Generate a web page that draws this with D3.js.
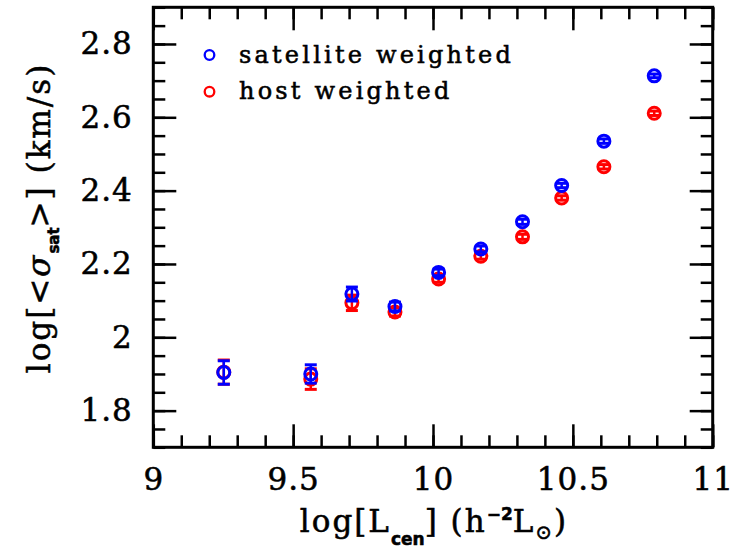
<!DOCTYPE html>
<html>
<head>
<meta charset="utf-8">
<script src="https://cdn.jsdelivr.net/npm/d3@7"></script>
<style>
body { margin: 0; background: #fff; }
svg text { stroke: #000; stroke-width: 0.55px; }
</style>
</head>
<body>
<script>
//values
var lumCen = [9.252, 9.563, 9.71, 9.864, 10.02, 10.171, 10.32, 10.46, 10.611, 10.791];
var satWeighted = [1.904, 1.900, 2.118, 2.084, 2.177, 2.241, 2.315, 2.414, 2.535, 2.713];
var satErr = [0.032, 0.025, 0.019, 0.012, 0.009, 0.008, 0.007, 0.006, 0.006, 0.005];
var hostWeighted = [1.905, 1.886, 2.094, 2.069, 2.159, 2.221, 2.274, 2.380, 2.465, 2.611];
var hostErr = [0.033, 0.028, 0.021, 0.011, 0.009, 0.008, 0.007, 0.006, 0.006, 0.006];

var xMajor = [9, 9.5, 10, 10.5, 11];
var yMajor = [1.8, 2.0, 2.2, 2.4, 2.6, 2.8];
var legendNames = ["satellite weighted", "host weighted"];
var seriesColors = ["#0000ff", "#ff0000"];

var width = 735, height = 548;
var plotLeft = 153.3, plotRight = 712.7, plotTop = 7.3, plotBottom = 447.3;

var svg = d3.select("body").append("svg")
    .attr("width", width)
    .attr("height", height);

var x = d3.scaleLinear().domain([9, 11]).range([plotLeft, plotRight]);
var y = d3.scaleLinear().domain([1.7, 2.9]).range([plotBottom, plotTop]);

var xMinor = d3.range(9, 11.001, 0.1).map(function(d){ return +d.toFixed(2); });
var yMinor = d3.range(1.7, 2.901, 0.05).map(function(d){ return +d.toFixed(2); });
var fmt = function(d){ return String(+d.toFixed(2)); };

var serif = "'DejaVu Serif', serif";
var sans = "'DejaVu Sans', sans-serif";

//inward ticks on all four sides
function addAxis(axis, tx, ty){
    var g = svg.append("g")
        .attr("transform", "translate(" + tx + "," + ty + ")")
        .call(axis);
    g.select(".domain").remove();
    g.selectAll("line").attr("stroke", "#000").attr("stroke-width", 2.5);
    return g;
}

addAxis(d3.axisBottom(x).tickValues(xMinor).tickSize(-12).tickFormat(""), 0, plotBottom);
addAxis(d3.axisTop(x).tickValues(xMinor).tickSize(-12).tickFormat(""), 0, plotTop);
addAxis(d3.axisTop(x).tickValues(xMajor).tickSize(-23).tickFormat(""), 0, plotTop);
addAxis(d3.axisLeft(y).tickValues(yMinor).tickSize(-12).tickFormat(""), plotLeft, 0);
addAxis(d3.axisRight(y).tickValues(yMinor).tickSize(-12).tickFormat(""), plotRight, 0);
addAxis(d3.axisRight(y).tickValues(yMajor).tickSize(-23).tickFormat(""), plotRight, 0);

var xAxis = addAxis(d3.axisBottom(x).tickValues(xMajor).tickSizeInner(-23).tickSizeOuter(0)
    .tickPadding(20.5).tickFormat(fmt), 0, plotBottom);
var yAxis = addAxis(d3.axisLeft(y).tickValues(yMajor).tickSizeInner(-23).tickSizeOuter(0)
    .tickPadding(20.5).tickFormat(fmt), plotLeft, 0);

[xAxis, yAxis].forEach(function(g){
    g.attr("font-family", null).attr("font-size", null);
    g.selectAll("text")
        .attr("fill", "#000")
        .style("font-family", serif)
        .style("font-size", "31px")
        .style("letter-spacing", "1px");
});

//frame
svg.append("rect")
    .attr("x", plotLeft).attr("y", plotTop)
    .attr("width", plotRight - plotLeft).attr("height", plotBottom - plotTop)
    .attr("fill", "none").attr("stroke", "#000").attr("stroke-width", 3);

//error bars and open circles, host first so satellite sits on top
var series = [
    {vals: hostWeighted, errs: hostErr, color: seriesColors[1]},
    {vals: satWeighted, errs: satErr, color: seriesColors[0]}
];

series.forEach(function(s){
    var pts = lumCen.map(function(l, i){ return {x: l, y: s.vals[i], e: s.errs[i]}; });
    var g = svg.append("g").attr("stroke", s.color).attr("fill", "none");

    g.selectAll(".bar").data(pts).enter().append("line")
        .attr("x1", function(d){ return x(d.x); })
        .attr("x2", function(d){ return x(d.x); })
        .attr("y1", function(d){ return y(d.y - d.e); })
        .attr("y2", function(d){ return y(d.y + d.e); })
        .attr("stroke-width", 2.5);

    [-1, 1].forEach(function(sign){
        g.selectAll(".cap" + sign).data(pts).enter().append("line")
            .attr("x1", function(d){ return x(d.x) - 6; })
            .attr("x2", function(d){ return x(d.x) + 6; })
            .attr("y1", function(d){ return y(d.y + sign * d.e); })
            .attr("y2", function(d){ return y(d.y + sign * d.e); })
            .attr("stroke-width", 3);
    });

    g.selectAll("circle").data(pts).enter().append("circle")
        .attr("cx", function(d){ return x(d.x); })
        .attr("cy", function(d){ return y(d.y); })
        .attr("r", 6)
        .attr("stroke-width", 3);
});

//legend
var legendY = [55, 91.7];
legendNames.forEach(function(name, i){
    svg.append("circle")
        .attr("cx", 209.5).attr("cy", legendY[i]).attr("r", 4.8)
        .attr("fill", "none").attr("stroke", seriesColors[i]).attr("stroke-width", 2.3);
    svg.append("text")
        .attr("x", 239).attr("y", legendY[i] + 7.5)
        .style("font-family", serif).style("font-size", "24px")
        .style("letter-spacing", "3.2px")
        .text(name);
});

//x axis title
var xt = svg.append("text")
    .attr("x", 434).attr("y", 531.7)
    .attr("text-anchor", "middle")
    .style("font-family", serif).style("font-size", "31px")
    .style("letter-spacing", "2px");
xt.append("tspan").text("log[L");
xt.append("tspan").attr("dy", 13).style("font-family", sans).style("font-weight", "bold")
    .style("font-size", "17px").style("letter-spacing", "0px").text("cen");
xt.append("tspan").attr("dy", -13).text("] (h");
xt.append("tspan").attr("dy", -12).style("font-family", sans).style("font-weight", "bold")
    .style("font-size", "17px").style("letter-spacing", "0px").text("−2");
xt.append("tspan").attr("dy", 12).text("L");
xt.append("tspan").attr("dy", 7).style("font-size", "20px").text("⊙");
xt.append("tspan").attr("dy", -7).text(")");

//y axis title
var yt = svg.append("text")
    .attr("transform", "translate(50,218) rotate(-90)")
    .attr("text-anchor", "middle")
    .style("font-family", serif).style("font-size", "31px")
    .style("letter-spacing", "2px");
yt.append("tspan").text("log[<");
yt.append("tspan").style("font-style", "italic").text("σ");
yt.append("tspan").attr("dy", 9).style("font-family", sans).style("font-weight", "bold")
    .style("font-size", "15px").style("letter-spacing", "0px").text("sat");
yt.append("tspan").attr("dy", -9).text(">] (km/s)");
</script>
</body>
</html>
